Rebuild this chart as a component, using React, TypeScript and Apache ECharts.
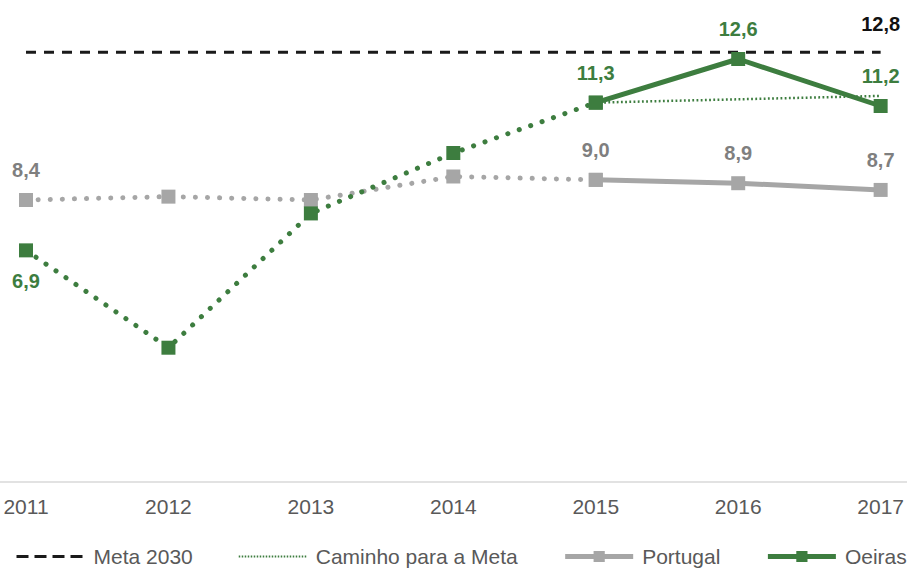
import React, { useEffect, useRef } from "react";
import * as echarts from "echarts";

const categories = ["2011", "2012", "2013", "2014", "2015", "2016", "2017"];
const meta2030 = [12.8, 12.8, 12.8, 12.8, 12.8, 12.8, 12.8];
const caminhoMeta = [null, null, null, null, 11.3, 11.4, 11.5];
const portugalHist = [8.4, 8.5, 8.4, 9.1, 9.0, null, null];
const portugalRecent = [null, null, null, null, 9.0, 8.9, 8.7];
const oeirasHist = [6.9, 4.0, 8.0, 9.8, 11.3, null, null];
const oeirasRecent = [null, null, null, null, 11.3, 12.6, 11.2];

const GREEN = "#3d7d3f";
const GRAY_LINE = "#a6a6a6";
const GRAY_LABEL = "#7f7f7f";
const TEXT = "#595959";
const FONT = "'Liberation Sans', Arial, sans-serif";

const fmt = (v: number) => v.toFixed(1).replace(".", ",");

function withLabels(
  values: (number | null)[],
  labelIdx: number[],
  color: string,
  position: "top" | "bottom",
  distance = 13
) {
  return values.map((v, i) => {
    if (v === null) return null;
    if (!labelIdx.includes(i)) return v;
    return {
      value: v,
      label: {
        show: true,
        position,
        distance,
        color,
        fontSize: 20,
        fontWeight: "bold",
        fontFamily: FONT,
        formatter: (p: any) => fmt(p.value),
      },
    };
  });
}

export default function App() {
  const ref = useRef<HTMLDivElement>(null);
  useEffect(() => {
    if (!ref.current) return;
    const chart = echarts.init(ref.current, null, { renderer: "svg" });
    const dotted = (color: string, width: number) => ({
      color,
      width,
      type: [0.1, 12] as any,
      cap: "round" as any,
    });
    chart.setOption({
      animation: false,
      grid: [
        { left: 26, right: 23, top: 12, bottom: 90 },
        { left: 0, right: 0, top: 12, bottom: 90 },
      ],
      xAxis: [
        {
          type: "category",
          data: categories,
          boundaryGap: false,
          gridIndex: 0,
          axisLine: { show: false },
          axisTick: { show: false },
          axisLabel: { color: TEXT, fontSize: 21, fontFamily: FONT, margin: 14 },
          splitLine: { show: false },
        },
        {
          type: "value",
          gridIndex: 1,
          min: 0,
          max: 1,
          axisLine: { show: true, onZero: false, lineStyle: { color: "#d9d9d9", width: 1.5 } },
          axisTick: { show: false },
          axisLabel: { show: false },
          splitLine: { show: false },
        },
      ],
      yAxis: [
        { type: "value", min: 0, max: 14, show: false, gridIndex: 0, splitLine: { show: false } },
        { type: "value", min: 0, max: 1, show: false, gridIndex: 1, splitLine: { show: false } },
      ],
      legend: {
        left: 15,
        top: 546,
        width: 900,
        padding: 0,
        itemGap: 45,
        itemWidth: 68,
        itemHeight: 14,
        textStyle: { color: TEXT, fontSize: 21, fontFamily: FONT, padding: [0, 0, 0, 4] },
        data: [
          { name: "Meta 2030", lineStyle: { type: [12, 6], width: 3 }, itemStyle: { opacity: 0 } },
          { name: "Caminho para a Meta", lineStyle: { type: [1.5, 1.5], width: 2 }, itemStyle: { opacity: 0 } },
          { name: "Portugal" },
          { name: "Oeiras" },
        ],
        lineStyle: { width: "inherit" },
      },
      series: [
        {
          name: "Meta 2030",
          type: "line",
          data: withLabels(meta2030, [6], "#111111", "top", 18),
          symbol: "rect",
          symbolSize: 1,
          itemStyle: { color: "transparent" },
          lineStyle: { color: "#1a1a1a", width: 3, type: [10, 8] },
          z: 2,
        },
        {
          name: "Caminho para a Meta",
          type: "line",
          data: caminhoMeta,
          symbol: "rect",
          symbolSize: 1,
          itemStyle: { color: "transparent" },
          lineStyle: { color: GREEN, width: 2.5, type: [1.8, 2.4] },
          z: 3,
        },
        {
          name: "Portugal (histórico)",
          type: "line",
          data: withLabels(portugalHist, [0], GRAY_LABEL, "top"),
          symbol: "rect",
          symbolSize: 14,
          itemStyle: { color: GRAY_LINE },
          lineStyle: dotted(GRAY_LINE, 5),
          z: 4,
        },
        {
          name: "Portugal",
          type: "line",
          data: withLabels(portugalRecent, [4, 5, 6], GRAY_LABEL, "top"),
          symbol: "rect",
          symbolSize: 14,
          itemStyle: { color: GRAY_LINE },
          lineStyle: { color: GRAY_LINE, width: 5 },
          z: 5,
        },
        {
          name: "Oeiras (histórico)",
          type: "line",
          data: withLabels(oeirasHist, [0], GREEN, "bottom", 14),
          symbol: "rect",
          symbolSize: 14,
          itemStyle: { color: GREEN },
          lineStyle: dotted(GREEN, 5),
          z: 6,
        },
        {
          name: "Oeiras",
          type: "line",
          data: withLabels(oeirasRecent, [4, 5, 6], GREEN, "top"),
          symbol: "rect",
          symbolSize: 14,
          itemStyle: { color: GREEN },
          lineStyle: { color: GREEN, width: 5 },
          z: 7,
        },
      ],
    });
    return () => chart.dispose();
  }, []);
  return (
    <div
      ref={ref}
      style={{ position: "fixed", left: 0, top: 0, width: 907, height: 572, background: "#ffffff" }}
    />
  );
}
